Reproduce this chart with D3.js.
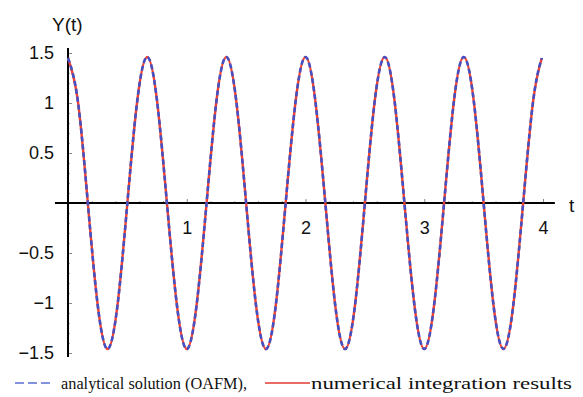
<!DOCTYPE html>
<html>
<head>
<meta charset="utf-8">
<script src="https://cdn.jsdelivr.net/npm/d3@7"></script>
<style>
  html, body { margin: 0; padding: 0; background: #fff; }
  svg { display: block; }
</style>
</head>
<body>
<svg id="chart" width="583" height="397"></svg>
<script>
// Time samples (every 1/12 time unit) and the displacement Y(t)
const tValues = [
  0, 0.083, 0.167, 0.25, 0.333, 0.417, 0.5, 0.583,
  0.667, 0.75, 0.833, 0.917, 1.0, 1.083, 1.167, 1.25,
  1.333, 1.417, 1.5, 1.583, 1.667, 1.75, 1.833, 1.917,
  2.0, 2.083, 2.167, 2.25, 2.333, 2.417, 2.5, 2.583,
  2.667, 2.75, 2.833, 2.917, 3.0, 3.083, 3.167, 3.25,
  3.333, 3.417, 3.5, 3.583, 3.667, 3.75, 3.833, 3.917, 3.99
];
// numerical integration results
const yNumerical = [
  1.45, 1.02, 0, -1.02, -1.46, -1.02, 0, 1.02,
  1.46, 1.02, 0, -1.02, -1.46, -1.02, 0, 1.02,
  1.46, 1.02, 0, -1.02, -1.46, -1.02, 0, 1.02,
  1.46, 1.02, 0, -1.02, -1.46, -1.02, 0, 1.02,
  1.46, 1.02, 0, -1.02, -1.46, -1.02, 0, 1.02,
  1.46, 1.02, 0, -1.02, -1.46, -1.02, 0, 1.02,
  1.45
];
// analytical solution (OAFM)
const yAnalytical = [
  1.45, 1.02, 0, -1.02, -1.46, -1.02, 0, 1.02,
  1.46, 1.02, 0, -1.02, -1.46, -1.02, 0, 1.02,
  1.46, 1.02, 0, -1.02, -1.46, -1.02, 0, 1.02,
  1.46, 1.02, 0, -1.02, -1.46, -1.02, 0, 1.02,
  1.46, 1.02, 0, -1.02, -1.46, -1.02, 0, 1.02,
  1.46, 1.02, 0, -1.02, -1.46, -1.02, 0, 1.02,
  1.45
];

const xTickValues = [1, 2, 3, 4];
const xTickLabels = ["1", "2", "3", "4"];
const yTickValues = [-1.5, -1, -0.5, 0.5, 1, 1.5];
const yTickLabels = ["\u22121.5", "\u22121", "\u22120.5", "0.5", "1", "1.5"];
const xMinorTicks = d3.range(0, 4.01, 0.2).filter(v => Math.abs(v - Math.round(v)) > 1e-6);
const yMinorTicks = d3.range(-1.5, 1.51, 0.1).filter(v => Math.abs(v * 2 - Math.round(v * 2)) > 1e-6);
const xAxisExtent = [-0.11, 4.1];
const yAxisExtent = [-1.54, 1.55];

const svg = d3.select("#chart");
const x = d3.scaleLinear().domain([0, 4]).range([68, 543]);
const y = d3.scaleLinear().domain([-1.5, 1.5]).range([353, 53]);

const axisFont = "Liberation Sans";
const legendFont = "Liberation Serif";

// minor ticks
svg.append("g")
  .attr("transform", `translate(0,${y(0)})`)
  .call(d3.axisBottom(x).tickValues(xMinorTicks).tickSize(-2).tickFormat(""))
  .call(g => g.select(".domain").remove())
  .call(g => g.selectAll("line").attr("stroke", "#aaa"));
svg.append("g")
  .attr("transform", `translate(${x(0)},0)`)
  .call(d3.axisLeft(y).tickValues(yMinorTicks).tickSize(-2).tickFormat(""))
  .call(g => g.select(".domain").remove())
  .call(g => g.selectAll("line").attr("stroke", "#aaa"));

// major ticks and labels
svg.append("g")
  .attr("transform", `translate(0,${y(0)})`)
  .call(d3.axisBottom(x).tickValues(xTickValues).tickSize(-4).tickPadding(18)
    .tickFormat((d, i) => xTickLabels[i]))
  .call(g => g.select(".domain").remove())
  .call(g => g.selectAll("line").attr("stroke", "#888"))
  .call(g => g.selectAll("text").attr("fill", "#111")
    .attr("font-family", axisFont).attr("font-size", 18));

svg.append("g")
  .attr("transform", `translate(${x(0)},0)`)
  .call(d3.axisLeft(y).tickValues(yTickValues).tickSize(-4).tickPadding(14)
    .tickFormat((d, i) => yTickLabels[i]))
  .call(g => g.select(".domain").remove())
  .call(g => g.selectAll("line").attr("stroke", "#888"))
  .call(g => g.selectAll("text").attr("fill", "#111")
    .attr("font-family", axisFont).attr("font-size", 18));

// axis lines
svg.append("line")
  .attr("x1", x(xAxisExtent[0])).attr("x2", x(xAxisExtent[1]))
  .attr("y1", y(0)).attr("y2", y(0))
  .attr("stroke", "#000").attr("stroke-width", 2);
svg.append("line")
  .attr("x1", x(0)).attr("x2", x(0))
  .attr("y1", y(yAxisExtent[0])).attr("y2", y(yAxisExtent[1]))
  .attr("stroke", "#000").attr("stroke-width", 2);

// axis titles
svg.append("text").attr("x", 52).attr("y", 31)
  .attr("font-family", axisFont).attr("font-size", 19).attr("fill", "#111").text("Y(t)");
svg.append("text").attr("x", 569).attr("y", 212)
  .attr("font-family", axisFont).attr("font-size", 19).attr("fill", "#111").text("t");

// curves
const lineNum = d3.line()
  .x((d, i) => x(tValues[i]))
  .y(d => y(d))
  .curve(d3.curveNatural);

svg.append("path")
  .datum(yNumerical)
  .attr("d", lineNum)
  .attr("fill", "none")
  .attr("stroke", "#f2412e")
  .attr("stroke-width", 2.4);

svg.append("path")
  .datum(yAnalytical)
  .attr("d", lineNum)
  .attr("fill", "none")
  .attr("stroke", "#4450c4")
  .attr("stroke-width", 2.6)
  .attr("stroke-dasharray", "5,3");

// legend
svg.append("line")
  .attr("x1", 15).attr("x2", 54).attr("y1", 383).attr("y2", 383)
  .attr("stroke", "#5b6fd2").attr("stroke-width", 1.4)
  .attr("stroke-dasharray", "9,4");
svg.append("text").attr("x", 61).attr("y", 389)
  .attr("font-family", legendFont).attr("font-size", 16).attr("fill", "#111")
  .attr("textLength", 186).attr("lengthAdjust", "spacingAndGlyphs")
  .text("analytical solution (OAFM),");
svg.append("line")
  .attr("x1", 265).attr("x2", 310).attr("y1", 383).attr("y2", 383)
  .attr("stroke", "#e03a30").attr("stroke-width", 1.3);
svg.append("text").attr("x", 311).attr("y", 389)
  .attr("font-family", legendFont).attr("font-size", 16).attr("fill", "#111")
  .attr("textLength", 261).attr("lengthAdjust", "spacingAndGlyphs")
  .text("numerical integration results");
</script>
</body>
</html>
